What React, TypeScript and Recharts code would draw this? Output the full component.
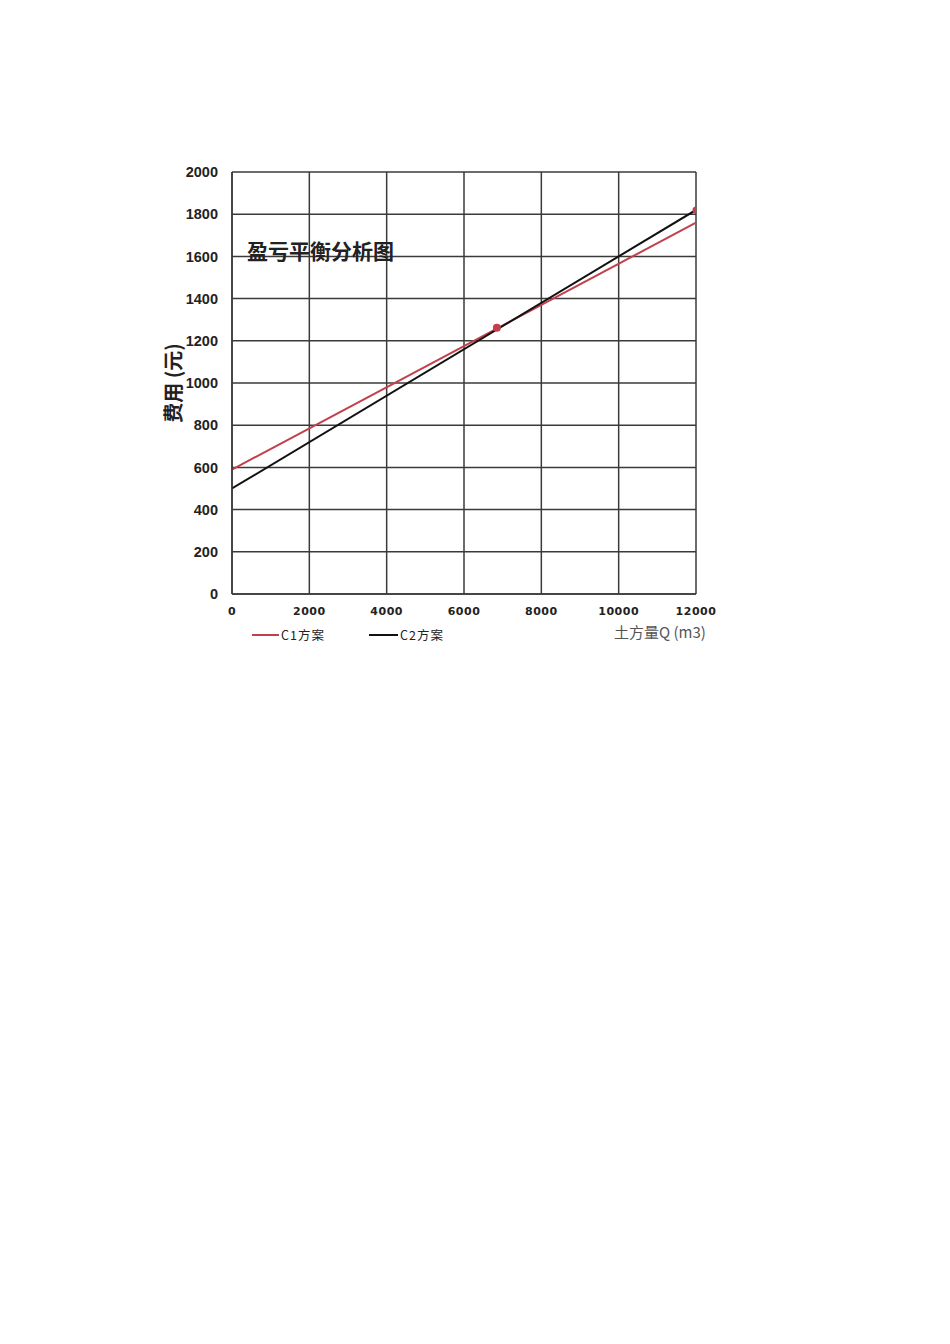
import React from 'react';
import { ComposedChart, Line, Scatter, XAxis, YAxis, CartesianGrid } from 'recharts';

// 土方量 Q (m3) 与费用 (元)
const quantity = [0, 12000];
const c1Cost = [590, 1760];
const c2Cost = [500, 1820];
const markQ = [6850, 12000];
const markCost = [1262, 1820];
const xTicks = [0, 2000, 4000, 6000, 8000, 10000, 12000];
const yTicks = [0, 200, 400, 600, 800, 1000, 1200, 1400, 1600, 1800, 2000];

const c1Data = quantity.map((q, i) => ({ q, cost: c1Cost[i] }));
const c2Data = quantity.map((q, i) => ({ q, cost: c2Cost[i] }));
const markData = markQ.map((q, i) => ({ q, cost: markCost[i] }));

const RED = '#c2404c';
const GRID = '#3a3a3a';

const Dot = ({ cx, cy, index }) => (
    <circle cx={cx} cy={cy} r={index === 0 ? 4 : 3.5} fill={RED} />
);

const App = () => {
    return (
        <div style={{ position: 'absolute', left: 0, top: 0, width: 950, height: 1344, background: '#fff' }}>
            <ComposedChart
                width={950}
                height={700}
                margin={{ top: 172, right: 254, bottom: 76, left: 172 }}
            >
                <CartesianGrid stroke={GRID} strokeWidth={1.5} horizontalValues={yTicks} verticalValues={xTicks} />
                <XAxis
                    type="number"
                    dataKey="q"
                    domain={[0, 12000]}
                    ticks={xTicks}
                    allowDataOverflow
                    height={30}
                    axisLine={{ stroke: GRID, strokeWidth: 1.5 }}
                    tickLine={false}
                    tickSize={0}
                    tickMargin={13}
                    tick={{ fontSize: 11, fontWeight: 700, fill: '#222', fontFamily: 'DejaVu Sans', letterSpacing: 0.5 }}
                />
                <YAxis
                    type="number"
                    dataKey="cost"
                    domain={[0, 2000]}
                    ticks={yTicks}
                    allowDataOverflow
                    width={60}
                    axisLine={{ stroke: GRID, strokeWidth: 1.5 }}
                    tickLine={false}
                    tickSize={0}
                    tickMargin={14}
                    tick={{ fontSize: 14.5, fontWeight: 700, fill: '#222', fontFamily: 'Liberation Sans' }}
                />
                <Line data={c1Data} dataKey="cost" stroke={RED} strokeWidth={2} dot={false} isAnimationActive={false} />
                <Line data={c2Data} dataKey="cost" stroke="#111" strokeWidth={2} dot={false} isAnimationActive={false} />
                <Scatter data={markData} dataKey="cost" fill={RED} shape={<Dot />} isAnimationActive={false} />
                <text x={247} y={259} fontSize={21} fontWeight={700} fill="#222" fontFamily="Noto Sans CJK SC">
                    盈亏平衡分析图
                </text>
                <text
                    x={172}
                    y={383}
                    transform="rotate(-90 172 383)"
                    textAnchor="middle"
                    dominantBaseline="central"
                    fontSize={20}
                    fontWeight={700}
                    fill="#222"
                    fontFamily="Noto Sans CJK SC"
                >
                    费用 (元)
                </text>
                <text x={614} y={638} fontSize={15} fill="#555" fontFamily="Noto Sans CJK SC">
                    土方量Q (m3)
                </text>
                <line x1={252} y1={635} x2={279} y2={635} stroke={RED} strokeWidth={2} />
                <text x={281} y={640} fontSize={12.5} fill="#222" fontFamily="Noto Sans CJK SC" letterSpacing={1}>
                    C1方案
                </text>
                <line x1={369} y1={635} x2={398} y2={635} stroke="#111" strokeWidth={2} />
                <text x={400} y={640} fontSize={12.5} fill="#222" fontFamily="Noto Sans CJK SC" letterSpacing={1}>
                    C2方案
                </text>
            </ComposedChart>
        </div>
    );
};

export default App;
